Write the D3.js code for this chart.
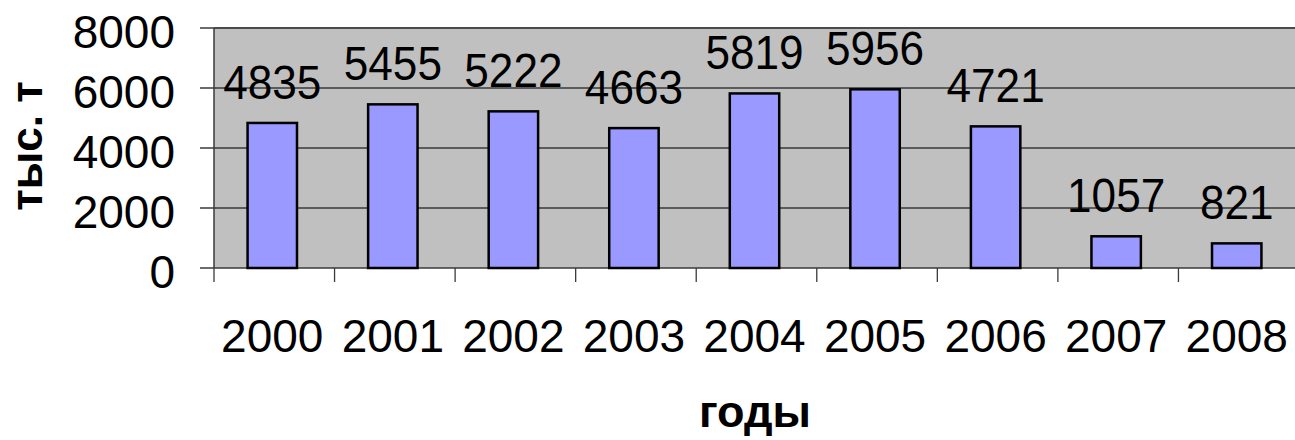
<!DOCTYPE html>
<html><head><meta charset="utf-8">
<script src="https://cdn.jsdelivr.net/npm/d3@7"></script>
<style>body{margin:0;background:#fff}svg{display:block}</style>
</head><body>
<svg id="c" width="1295" height="440"></svg>
<script>
const years = ["2000","2001","2002","2003","2004","2005","2006","2007","2008"];
const values = [4835,5455,5222,4663,5819,5956,4721,1057,821];
const yTicks = [0,2000,4000,6000,8000];
const yLabel = "тыс. т";
const xLabel = "годы";

const svg = d3.select("#c");
const L = 214, R = 1299, T = 28, B = 268;
const x = d3.scaleBand().domain(years).range([L, R]).paddingInner(0.59).paddingOuter(0.295);
const y = d3.scaleLinear().domain([0, 8000]).range([B, T]);
const step = x.step();
const font = "'Liberation Sans', Arial, sans-serif";

// plot background
svg.append("rect").attr("x", L).attr("y", T).attr("width", R - L).attr("height", B - T).attr("fill", "#c0c0c0");
// top border
svg.append("line").attr("x1", L).attr("x2", R).attr("y1", T).attr("y2", T).attr("stroke", "#808080").attr("stroke-width", 2);

// gridlines + left ticks
svg.append("g").selectAll("line").data(yTicks).join("line")
  .attr("x1", L - 14).attr("x2", R).attr("y1", d => y(d)).attr("y2", d => y(d))
  .attr("stroke", "#3a3a3a").attr("stroke-width", 1.3);
// left axis line
svg.append("line").attr("x1", L).attr("x2", L).attr("y1", T).attr("y2", B).attr("stroke", "#3a3a3a").attr("stroke-width", 1.5);

// y tick labels
svg.append("g").selectAll("text").data(yTicks).join("text")
  .attr("x", 175).attr("y", d => y(d) + 20).attr("text-anchor", "end")
  .attr("font-family", font).attr("font-size", 46).attr("fill", "#000")
  .text(d => d);

// bottom category ticks
const bounds = years.map((d, i) => L + i * step);
svg.append("g").selectAll("line").data(bounds).join("line")
  .attr("x1", d => d).attr("x2", d => d).attr("y1", B).attr("y2", B + 14)
  .attr("stroke", "#3a3a3a").attr("stroke-width", 1.3);

// bars
svg.append("g").selectAll("rect").data(values).join("rect")
  .attr("x", (d, i) => x(years[i]) - 2).attr("width", x.bandwidth())
  .attr("y", d => y(d)).attr("height", d => B - y(d))
  .attr("fill", "#9999ff").attr("stroke", "#000").attr("stroke-width", 2.5);

// value labels
svg.append("g").selectAll("text").data(values).join("text")
  .attr("transform", (d, i) => `translate(${x(years[i]) + x.bandwidth() / 2 - 2},${y(d) - 24}) scale(0.92,1)`)
  .attr("text-anchor", "middle")
  .attr("font-family", font).attr("font-size", 48).attr("fill", "#000")
  .text(d => d);

// year labels
svg.append("g").selectAll("text").data(years).join("text")
  .attr("x", d => x(d) + x.bandwidth() / 2 - 2).attr("y", 352).attr("text-anchor", "middle")
  .attr("font-family", font).attr("font-size", 46).attr("fill", "#000")
  .text(d => d);

// axis titles
svg.append("text").attr("x", 755).attr("y", 427).attr("text-anchor", "middle")
  .attr("font-family", font).attr("font-size", 45).attr("font-weight", "bold").text(xLabel);
svg.append("text").attr("transform", "translate(42,146) rotate(-90)").attr("text-anchor", "middle")
  .attr("font-family", font).attr("font-size", 44).attr("font-weight", "bold").text(yLabel);
</script>
</body></html>
